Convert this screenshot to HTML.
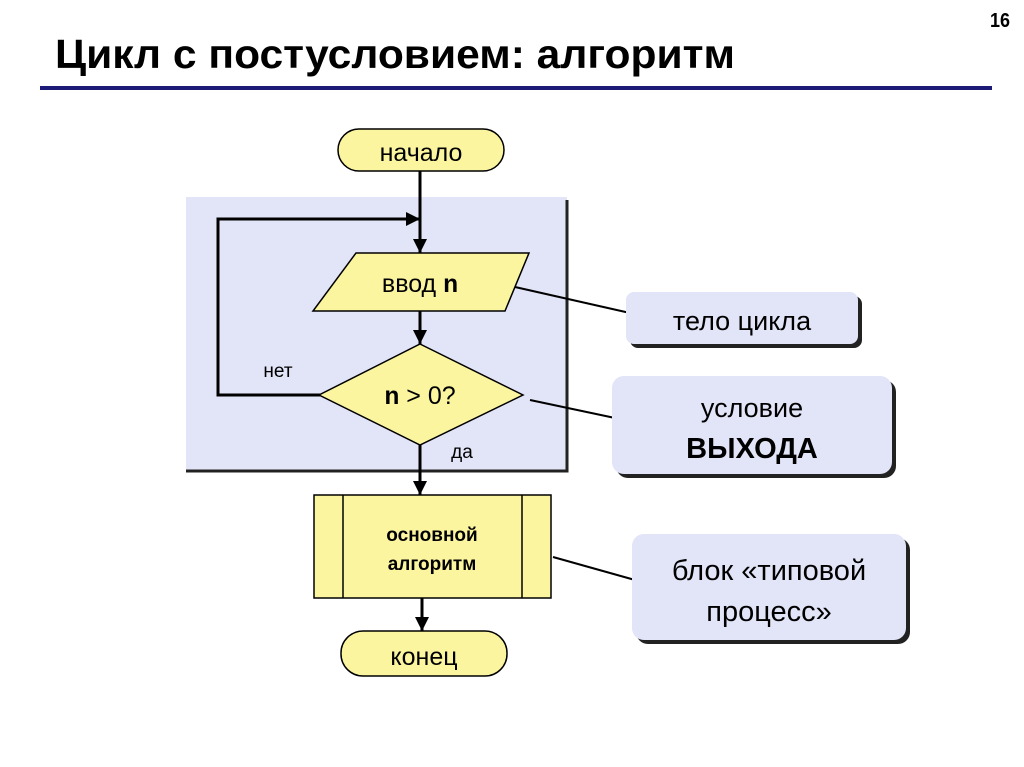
<!DOCTYPE html>
<html><head><meta charset="utf-8"><style>
html,body{margin:0;padding:0;background:#fff;}
svg{display:block;}
text{font-family:"Liberation Sans",sans-serif;}
.m{font-family:"Liberation Mono",monospace;}
</style></head><body>
<svg width="1024" height="767" viewBox="0 0 1024 767" xmlns="http://www.w3.org/2000/svg">
<defs>
<marker id="a" viewBox="0 0 10 10" refX="10" refY="5" markerWidth="5" markerHeight="5" orient="auto" markerUnits="userSpaceOnUse"><path d="M0,0 L10,5 L0,10 z" fill="#000"/></marker>
<marker id="b" viewBox="0 0 10 10" refX="10" refY="5" markerWidth="14" markerHeight="14" orient="auto" markerUnits="userSpaceOnUse"><path d="M0,0 L10,5 L0,10 z" fill="#000"/></marker>
</defs>
<text x="1000" y="27" font-size="20" font-weight="bold" text-anchor="middle" textLength="20" lengthAdjust="spacingAndGlyphs">16</text>
<text x="55" y="68" font-size="41" font-weight="bold" textLength="680" lengthAdjust="spacingAndGlyphs">Цикл с постусловием: алгоритм</text>
<rect x="40" y="86" width="952" height="4" fill="#1c1c78"/>
<!-- background region -->
<rect x="186" y="197" width="381" height="274" fill="#e2e4f7"/>
<path d="M567 200 V471 H186" fill="none" stroke="#222" stroke-width="3"/>
<!-- start -->
<rect x="338" y="129" width="166" height="42" rx="21" fill="#fbf5a0" stroke="#000" stroke-width="1.5"/>
<text x="421" y="161" font-size="25" text-anchor="middle">начало</text>
<!-- lines -->
<line x1="420" y1="171" x2="420" y2="253" stroke="#000" stroke-width="3" marker-end="url(#b)"/>
<polyline points="320,395 218,395 218,219 420,219" fill="none" stroke="#000" stroke-width="3" marker-end="url(#b)"/>
<line x1="420" y1="311" x2="420" y2="344" stroke="#000" stroke-width="3" marker-end="url(#b)"/>
<line x1="420" y1="445" x2="420" y2="495" stroke="#000" stroke-width="3" marker-end="url(#b)"/>
<line x1="422" y1="598" x2="422" y2="631" stroke="#000" stroke-width="3" marker-end="url(#b)"/>
<!-- input -->
<polygon points="356,253 529,253 505,311 313,311" fill="#fbf5a0" stroke="#000" stroke-width="1.5"/>
<text x="420" y="292" font-size="25" text-anchor="middle">ввод <tspan class="m" font-weight="bold">n</tspan></text>
<!-- diamond -->
<polygon points="420,344 523,395 420,445 319,395" fill="#fbf5a0" stroke="#000" stroke-width="1.5"/>
<text x="420" y="404" font-size="25" text-anchor="middle"><tspan class="m" font-weight="bold">n</tspan> &gt; 0?</text>
<text x="278" y="377" font-size="19" text-anchor="middle">нет</text>
<text x="462" y="458" font-size="19" text-anchor="middle">да</text>
<!-- process -->
<rect x="314" y="495" width="237" height="103" fill="#fbf5a0" stroke="#000" stroke-width="1.5"/>
<line x1="343" y1="495" x2="343" y2="598" stroke="#000" stroke-width="1.5"/>
<line x1="522" y1="495" x2="522" y2="598" stroke="#000" stroke-width="1.5"/>
<text x="432" y="541" font-size="19" font-weight="bold" text-anchor="middle">основной</text>
<text x="432" y="570" font-size="19" font-weight="bold" text-anchor="middle">алгоритм</text>
<!-- end -->
<rect x="341" y="631" width="166" height="45" rx="22" fill="#fbf5a0" stroke="#000" stroke-width="1.5"/>
<text x="424" y="665" font-size="25" text-anchor="middle">конец</text>
<!-- connectors -->
<line x1="515" y1="287" x2="630" y2="313" stroke="#000" stroke-width="2"/>
<line x1="530" y1="400" x2="615" y2="418" stroke="#000" stroke-width="2"/>
<line x1="553" y1="557" x2="635" y2="580" stroke="#000" stroke-width="2"/>
<!-- callouts -->
<rect x="630" y="296" width="232" height="52" rx="8" fill="#222"/>
<rect x="626" y="292" width="232" height="52" rx="8" fill="#e2e4f7"/>
<text x="742" y="330" font-size="27" text-anchor="middle">тело цикла</text>
<rect x="616" y="380" width="280" height="98" rx="12" fill="#222"/>
<rect x="612" y="376" width="280" height="98" rx="12" fill="#e2e4f7"/>
<text x="752" y="417" font-size="27" text-anchor="middle">условие</text>
<text x="752" y="458" font-size="29" font-weight="bold" text-anchor="middle">ВЫХОДА</text>
<rect x="636" y="538" width="274" height="106" rx="12" fill="#222"/>
<rect x="632" y="534" width="274" height="106" rx="12" fill="#e2e4f7"/>
<text x="769" y="580" font-size="29" text-anchor="middle">блок «типовой</text>
<text x="769" y="621" font-size="29" text-anchor="middle">процесс»</text>
</svg>
</body></html>
